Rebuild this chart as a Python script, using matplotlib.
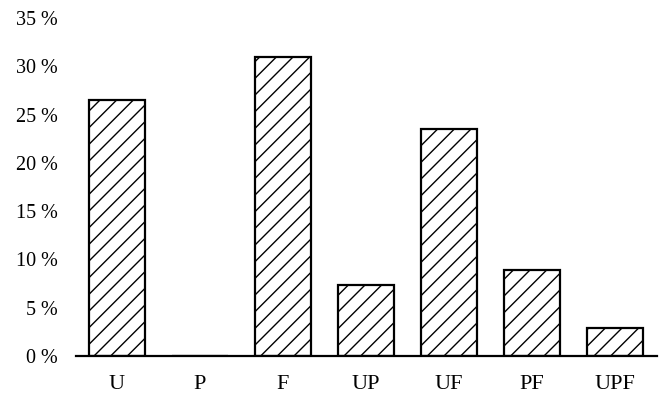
import matplotlib.pyplot as plt
import numpy as np

plt.rcParams["font.family"] = ["Liberation Serif", "DejaVu Serif"]
plt.rcParams["hatch.linewidth"] = 1.0

categories = ["U", "P", "F", "UP", "UF", "PF", "UPF"]
shares = [26.5, 0.0, 31.0, 7.4, 23.5, 8.9, 2.9]
y_ticks = [0, 5, 10, 15, 20, 25, 30, 35]

W, H = 664, 395
fig = plt.figure(figsize=(W / 100, H / 100), dpi=100)
ax = fig.add_axes([75.5 / W, 1 - 356 / H, (656.5 - 75.5) / W, (356 - 18) / H])

xs = np.arange(len(categories))
ax.bar(xs, shares, width=0.67, color="white", edgecolor="black",
       linewidth=1.6, hatch="//", zorder=2)

ax.set_xlim(-0.5, 6.5)
ax.set_ylim(0, 35)
ax.set_xticks(xs, categories)
ax.set_yticks(y_ticks, [f"{v} %" for v in y_ticks])
ax.tick_params(length=0)
ax.tick_params(axis="x", pad=14, labelsize=16)
ax.tick_params(axis="y", pad=13, labelsize=14.5)
for side in ["top", "right", "left"]:
    ax.spines[side].set_visible(False)
ax.spines["bottom"].set_linewidth(1.6)
ax.spines["bottom"].set_zorder(3)

fig.savefig("out.png", dpi=100)
